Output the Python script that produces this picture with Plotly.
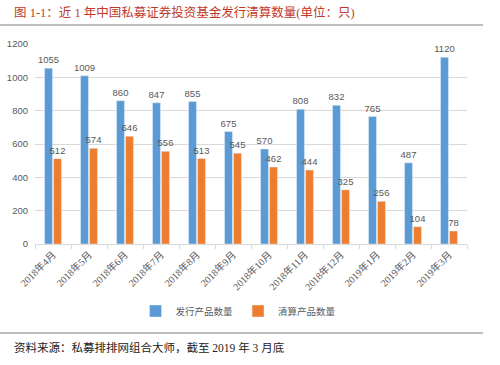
import plotly.graph_objects as go

categories = ["2018年4月", "2018年5月", "2018年6月", "2018年7月", "2018年8月", "2018年9月",
              "2018年10月", "2018年11月", "2018年12月", "2019年1月", "2019年2月", "2019年3月"]
issued = [1055, 1009, 860, 847, 855, 675, 570, 808, 832, 765, 487, 1120]
liquidated = [512, 574, 646, 556, 513, 545, 462, 444, 325, 256, 104, 78]
y_ticks = [0, 200, 400, 600, 800, 1000, 1200]

W, H = 500, 365
L, R, T, B = 35, 33, 44, 121
pw, ph = W - L - R, H - T - B

def px_x(x):
    return (x - L) / pw

def px_y(y):
    return (H - B - y) / ph

font_cjk = "Noto Sans CJK SC, Noto Sans, sans-serif"
serif = "Liberation Serif, Noto Sans CJK SC, serif"
sans = "Liberation Sans, Noto Sans CJK SC, sans-serif"

fig = go.Figure()
fig.add_trace(go.Bar(x=categories, y=issued, name="发行产品数量", marker_color="#5B9BD5",
                     text=issued, textposition="outside", cliponaxis=False, constraintext="none",
                     textfont=dict(size=9.5, color="#595959", family=sans)))
fig.add_trace(go.Bar(x=categories, y=liquidated, name="清算产品数量", marker_color="#ED7D31",
                     text=liquidated, textposition="outside", cliponaxis=False, constraintext="none",
                     textfont=dict(size=9.5, color="#595959", family=sans)))

fig.update_layout(
    width=W, height=H,
    margin=dict(l=L, r=R, t=T, b=B, autoexpand=False),
    paper_bgcolor="white", plot_bgcolor="white",
    barmode="group", bargap=0.5, bargroupgap=0.12,
    font=dict(family=font_cjk, size=9, color="#595959"),
    showlegend=True,
    legend=dict(orientation="h", x=0.47, xanchor="center", y=px_y(311), yanchor="middle",
                font=dict(size=9.5, color="#595959"), traceorder="normal", itemwidth=30),
    xaxis=dict(type="category", tickangle=-45, tickfont=dict(size=10, family=serif, color="#595959"),
               showline=True, linecolor="#D9D9D9", ticks="outside", tickson="boundaries",
               ticklen=4, tickcolor="#D9D9D9", showgrid=False, automargin=False),
    yaxis=dict(range=[0, 1200], tickvals=y_ticks, showgrid=True, gridcolor="#D9D9D9",
               zeroline=False, showline=False, tickfont=dict(size=9.5, family=sans, color="#595959"),
               ticks="", ticklabelstandoff=6, automargin=False),
    shapes=[
        dict(type="line", xref="paper", yref="paper", x0=px_x(0), x1=px_x(483),
             y0=px_y(25), y1=px_y(25), line=dict(color="#808080", width=1)),
        dict(type="line", xref="paper", yref="paper", x0=px_x(0), x1=px_x(483),
             y0=px_y(333), y1=px_y(333), line=dict(color="#808080", width=1)),
    ],
    annotations=[
        dict(text="图 1-1：近 1 年中国私募证券投资基金发行清算数量(单位：只)", xref="paper", yref="paper",
             x=px_x(12), y=px_y(13), xanchor="left", yanchor="middle", showarrow=False,
             font=dict(size=12.5, color="#C0392B", family=serif)),
        dict(text="资料来源：私募排排网组合大师，截至 2019 年 3 月底", xref="paper", yref="paper",
             x=px_x(12), y=px_y(347), xanchor="left", yanchor="middle", showarrow=False,
             font=dict(size=11.5, color="#222222", family=serif)),
    ],
)

fig.write_html("out.html", config={"displayModeBar": False},
               post_script="document.body.style.margin='0px';")
